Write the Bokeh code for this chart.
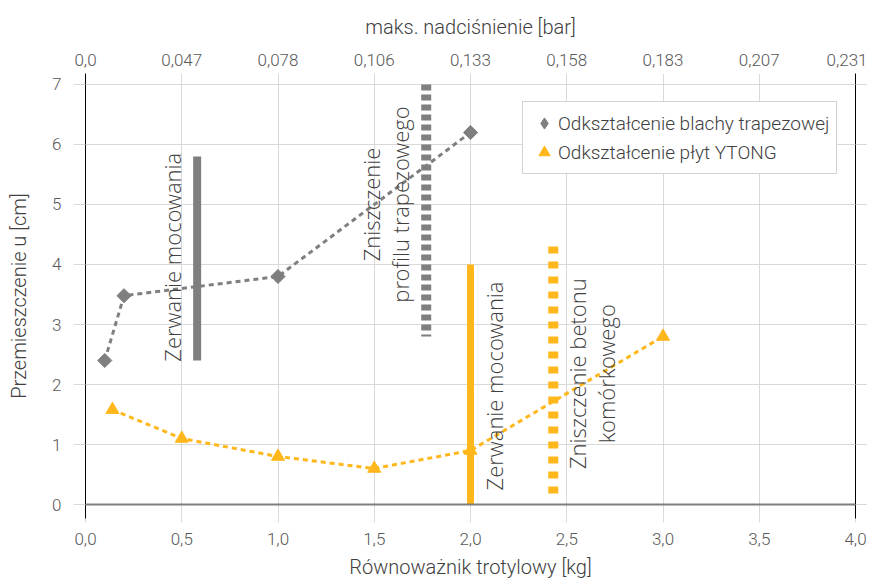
import numpy as np
from bokeh.plotting import figure
from bokeh.models import (LinearAxis, FixedTicker, Range1d, Span, Legend,
                          LegendItem, Title)
from bokeh.core.properties import value
from bokeh.embed import file_html
from bokeh.resources import INLINE

# ---------------- data ----------------
blacha_x = [0.1, 0.2, 1.0, 2.0]
blacha_y = [2.4, 3.48, 3.8, 6.2]

ytong_x = [0.14, 0.5, 1.0, 1.5, 2.0, 3.0]
ytong_y = [1.58, 1.1, 0.8, 0.6, 0.9, 2.8]

x_ticks = [0.0, 0.5, 1.0, 1.5, 2.0, 2.5, 3.0, 3.5, 4.0]
x_tick_labels = ["0,0", "0,5", "1,0", "1,5", "2,0", "2,5", "3,0", "3,5", "4,0"]
top_tick_labels = ["0,0", "0,047", "0,078", "0,106", "0,133", "0,158",
                   "0,183", "0,207", "0,231"]
y_ticks = [0, 1, 2, 3, 4, 5, 6, 7]

# failure events (vertical markers)
event_x = [0.58, 1.77, 2.0, 2.43]
event_y_from = [2.4, 7.0, 0.0, 4.3]
event_y_to = [5.8, 2.8, 4.0, 0.12]

annot_text = ["Zerwanie mocowania",
              "Zniszczenie\nprofilu trapezowego",
              "Zerwanie mocowania",
              "Zniszczenie betonu\nkomórkowego"]
annot_x = [0.447, 1.56, 2.12, 2.63]
annot_y = [4.12, 5.0, 1.975, 2.18]

# ---------------- styles ----------------
GRAY = "#7F7F7F"
YEL = "#FFB71B"
GRID = "#D9D9D9"
TXT = "#404040"
TICK = "#595959"
FONT = "Roboto Light"

p = figure(frame_width=770, frame_height=445, output_backend="svg",
           toolbar_location=None, title=None,
           x_range=Range1d(0, 4), y_range=Range1d(-0.2333, 7.1833),
           min_border_left=85, min_border_right=8, min_border_top=73,
           min_border_bottom=66)
p.outline_line_color = None
p.background_fill_color = "white"

# grids
p.xgrid.ticker = FixedTicker(ticks=x_ticks)
p.ygrid.ticker = FixedTicker(ticks=y_ticks)
p.xgrid.grid_line_color = GRID
p.ygrid.grid_line_color = GRID

# bottom axis
xa = p.xaxis[0]
xa.ticker = FixedTicker(ticks=x_ticks)
xa.major_label_overrides = {t: l for t, l in zip(x_ticks, x_tick_labels)}
xa.axis_line_color = None
xa.major_tick_in = 0
xa.major_tick_out = 4
xa.major_tick_line_color = GRID
xa.minor_tick_line_color = None
xa.major_label_standoff = 10
xa.major_label_text_font = FONT
xa.major_label_text_font_size = "17px"
xa.major_label_text_color = TICK

# left axis
ya = p.yaxis[0]
ya.ticker = FixedTicker(ticks=y_ticks)
ya.axis_line_color = "black"
ya.major_tick_in = 0
ya.major_tick_out = 12
ya.major_tick_line_color = GRID
ya.minor_tick_line_color = None
ya.major_label_standoff = 12
ya.major_label_text_font = FONT
ya.major_label_text_font_size = "17px"
ya.major_label_text_color = TICK
ya.axis_label = "Przemieszczenie u [cm]"
ya.axis_label_text_font = FONT
ya.axis_label_text_font_size = "20px"
ya.axis_label_text_font_style = "normal"
ya.axis_label_text_color = TXT
ya.axis_label_standoff = 18

# right axis (line + gridline extension)
ra = LinearAxis(ticker=FixedTicker(ticks=y_ticks))
ra.major_label_overrides = {t: "" for t in y_ticks}
ra.axis_line_color = "black"
ra.major_tick_in = 0
ra.major_tick_out = 12
ra.major_tick_line_color = GRID
ra.minor_tick_line_color = None
ra.major_label_standoff = 0
ra.axis_label_standoff = 0
ra.major_label_text_font_size = "1px"
p.add_layout(ra, "right")

# top axis
ta = LinearAxis(ticker=FixedTicker(ticks=x_ticks))
ta.major_label_overrides = {t: l for t, l in zip(x_ticks, top_tick_labels)}
ta.axis_line_color = None
ta.major_tick_in = 0
ta.major_tick_out = 0
ta.minor_tick_line_color = None
ta.major_label_standoff = 8
ta.major_label_text_font = FONT
ta.major_label_text_font_size = "17px"
ta.major_label_text_color = TICK
p.add_layout(ta, "above")

top_title = Title(text="maks. nadciśnienie [bar]", align="center", offset=-20,
                  text_font=FONT, text_font_size="20px", text_font_style="normal",
                  text_color=TXT, standoff=24)
p.add_layout(top_title, "above")

bottom_title = Title(text="Równoważnik trotylowy [kg]", align="center", offset=-20,
                     text_font=FONT, text_font_size="20px", text_font_style="normal",
                     text_color=TXT, standoff=10)
p.add_layout(bottom_title, "below")

# zero line
p.add_layout(Span(location=0, dimension="width", line_color=GRAY, line_width=2))

# event markers
p.line([event_x[0], event_x[0]], [event_y_from[0], event_y_to[0]],
       line_color=GRAY, line_width=8)
p.line([event_x[1], event_x[1]], [event_y_from[1], event_y_to[1]],
       line_color=GRAY, line_width=10, line_dash="6 4")
p.line([event_x[2], event_x[2]], [event_y_from[2], event_y_to[2]],
       line_color=YEL, line_width=7)
p.line([event_x[3], event_x[3]], [event_y_from[3], event_y_to[3]],
       line_color=YEL, line_width=10, line_dash="7 8")

# series
p.line(blacha_x, blacha_y, line_color=GRAY, line_width=3, line_dash="5 4")
p.scatter(blacha_x, blacha_y, marker="square", angle=np.pi / 4, size=10,
          fill_color=GRAY, line_color=GRAY)
p.line(ytong_x, ytong_y, line_color=YEL, line_width=3, line_dash="5 4")
r2 = p.scatter(ytong_x, ytong_y, marker="triangle", size=13,
               fill_color=YEL, line_color=YEL)
# legend-only glyph (diamond shape for the key)
r1_key = p.scatter(blacha_x, blacha_y, marker="diamond", size=13,
                   fill_color=GRAY, line_color=GRAY, visible=False)

# annotations
p.text(x=annot_x, y=annot_y, text=annot_text, angle=np.pi / 2,
       text_align="center", text_baseline="middle",
       text_font=value("Open Sans Light"), text_font_size="22px", text_color=TXT,
       text_line_height=0.98)

legend = Legend(items=[LegendItem(label="Odkształcenie blachy trapezowej", renderers=[r1_key]),
                       LegendItem(label="Odkształcenie płyt YTONG", renderers=[r2])],
                location=(437, 344))
legend.border_line_color = "#A6A6A6"
legend.border_line_width = 1
legend.background_fill_color = "white"
legend.background_fill_alpha = 1
legend.label_text_font = FONT
legend.label_text_font_size = "19px"
legend.label_text_color = TXT
legend.glyph_width = 28
legend.glyph_height = 28
legend.spacing = 1
legend.padding = 7
legend.label_standoff = 0
legend.margin = 0
p.add_layout(legend)

open("out.html", "w").write(file_html(p, INLINE))
